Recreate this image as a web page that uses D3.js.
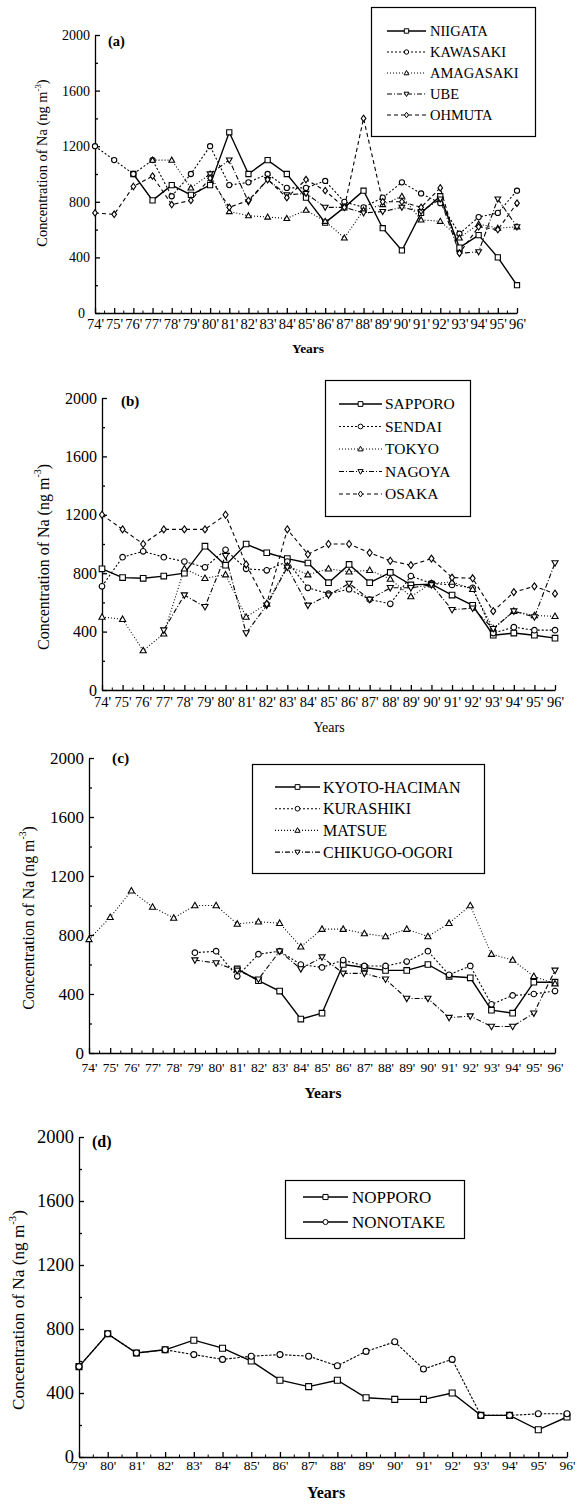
<!DOCTYPE html>
<html lang="en">
<head>
<meta charset="utf-8">
<title>Concentration of Na</title>
<script src="https://cdn.jsdelivr.net/npm/d3@7"></script>
<style>
body { margin: 0; background: #fff; }
svg { display: block; }
text { font-family: "Liberation Serif", "Times New Roman", serif; fill: #000; }
</style>
</head>
<body>
<script>
// tick labels
var years74 = ["74'","75'","76'","77'","78'","79'","80'","81'","82'","83'","84'","85'","86'","87'","88'","89'","90'","91'","92'","93'","94'","95'","96'"];
var years79 = ["79'","80'","81'","82'","83'","84'","85'","86'","87'","88'","89'","90'","91'","92'","93'","94'","95'","96'"];
var yTicks = [0, 400, 800, 1200, 1600, 2000];
var yMinor = [200, 600, 1000, 1400, 1800];

// (a)
var niigata   = [null,null,1000,810,920,850,920,1300,1000,1100,1000,830,650,760,880,610,450,720,840,470,560,400,200];
var kawasaki  = [1200,1100,1000,1100,840,1000,1200,920,940,1000,900,900,950,800,760,830,940,860,790,570,690,720,880];
var amagasaki = [null,null,null,1100,1100,900,1000,730,700,690,680,740,660,540,740,780,840,670,660,540,640,610,620];
var ube       = [null,null,null,null,null,null,1000,1100,800,960,850,860,760,760,720,730,760,730,820,430,440,820,620];
var ohmuta    = [720,710,910,985,780,810,970,760,810,960,830,960,880,760,1400,800,800,760,900,430,620,600,790];

// (b)
var sapporo = [830,770,765,780,800,985,855,1000,940,900,870,735,860,735,805,720,725,650,580,375,390,375,355];
var sendai  = [710,910,950,910,880,840,960,830,820,880,700,660,690,620,590,780,730,720,700,390,430,410,410];
var tokyo   = [500,485,270,385,830,765,790,500,590,850,790,830,810,820,760,640,730,740,690,420,540,510,505];
var nagoya  = [null,null,null,410,650,570,920,390,580,840,580,650,730,620,700,700,720,550,560,420,540,500,870];
var osaka   = [1200,1100,1000,1100,1100,1100,1200,860,590,1100,930,1000,1000,940,885,855,900,770,765,540,670,710,660];

// (c)
var kyoto     = [null,null,null,null,null,null,null,570,490,420,230,270,600,580,560,560,600,520,510,290,270,480,480];
var kurashiki = [null,null,null,null,null,680,690,520,670,690,600,580,630,590,590,620,690,530,590,330,390,400,420];
var matsue    = [770,920,1100,990,915,1000,1000,875,890,880,720,840,840,810,790,840,790,880,1000,670,630,520,470];
var chikugo   = [null,null,null,null,null,630,610,560,500,690,570,650,540,540,500,370,370,240,250,180,180,270,560];

// (d)
var nopporo  = [565,770,650,670,730,680,600,480,440,480,370,360,360,400,260,260,170,250];
var nonotake = [565,770,650,670,640,610,630,640,630,570,660,720,550,610,260,260,270,270];

var panels = [
  {label:"(a)", years:years74, x0:95, x1:517, y0:313, yTop:35, fy:14, fx:14.5, xpad:6, zeroPad:10, ms:2.6,
   lab:[108,46,14.5], title:[42,163,14.4], yrs:[308,353,13.5,"bold"],
   legend:{x:371, y:7, w:164, h:129, row0:31, rowH:21, lx0:387, lx1:426, tx:430, fs:14.5},
   series:[
     {name:"NIIGATA", v:niigata, shape:"square", dash:null},
     {name:"KAWASAKI", v:kawasaki, shape:"circle", dash:"2,2"},
     {name:"AMAGASAKI", v:amagasaki, shape:"up", dash:"1,2"},
     {name:"UBE", v:ube, shape:"down", dash:"5,2,1,2"},
     {name:"OHMUTA", v:ohmuta, shape:"diamond", dash:"4,3"}
   ]},
  {label:"(b)", years:years74, x0:102, x1:555, y0:690, yTop:398, fy:16, fx:14.5, xpad:7, zeroPad:5, ms:2.8,
   lab:[121,406,15], title:[43,557,16], yrs:[329,732,14,"normal"],
   legend:{x:325, y:380, w:145, h:136, row0:404, rowH:22.5, lx0:339, lx1:382, tx:385, fs:15.5},
   series:[
     {name:"SAPPORO", v:sapporo, shape:"square", dash:null},
     {name:"SENDAI", v:sendai, shape:"circle", dash:"2,2"},
     {name:"TOKYO", v:tokyo, shape:"up", dash:"1,2"},
     {name:"NAGOYA", v:nagoya, shape:"down", dash:"5,2,1,2"},
     {name:"OSAKA", v:osaka, shape:"diamond", dash:"4,3"}
   ]},
  {label:"(c)", years:years74, x0:89, x1:555, y0:1053, yTop:758, fy:17, fx:13.5, xpad:9, zeroPad:5, ms:2.8,
   lab:[112,763,15.5], title:[28,918,15.8], yrs:[323,1098,15.5,"bold"],
   legend:{x:252, y:764, w:232, h:109, row0:787, rowH:21.7, lx0:275, lx1:320, tx:323, fs:16},
   series:[
     {name:"KYOTO-HACIMAN", v:kyoto, shape:"square", dash:null},
     {name:"KURASHIKI", v:kurashiki, shape:"circle", dash:"2,2"},
     {name:"MATSUE", v:matsue, shape:"up", dash:"1,2"},
     {name:"CHIKUGO-OGORI", v:chikugo, shape:"down", dash:"5,2,1,2"}
   ]},
  {label:"(d)", years:years79, x0:79, x1:567, y0:1457, yTop:1137, fy:18.5, fx:13.5, xpad:3, zeroPad:5, ms:3,
   lab:[92,1147,16], title:[18,1310,17.2], yrs:[326,1498,16,"bold"],
   legend:{x:285, y:1180, w:179, h:58, row0:1197, rowH:25, lx0:303, lx1:348, tx:352, fs:17, allSolid:true},
   series:[
     {name:"NOPPORO", v:nopporo, shape:"square", dash:null},
     {name:"NONOTAKE", v:nonotake, shape:"circle", dash:"2.5,1.5"}
   ]}
];

var W = 578, H = 1507;
var svg = d3.select("body").append("svg").attr("width", W).attr("height", H);
svg.append("rect").attr("width", W).attr("height", H).attr("fill", "#fff");

// marker outline centred on 0,0
function markerPath(shape, s) {
  if (shape == "square") return "M" + (-s) + "," + (-s) + "h" + 2*s + "v" + 2*s + "h" + (-2*s) + "Z";
  if (shape == "circle") return d3.arc()({innerRadius:0, outerRadius:s, startAngle:0, endAngle:2*Math.PI});
  if (shape == "up") return "M0," + (-1.15*s) + "L" + (1.1*s) + "," + (0.8*s) + "L" + (-1.1*s) + "," + (0.8*s) + "Z";
  if (shape == "down") return "M0," + (1.15*s) + "L" + (1.1*s) + "," + (-0.8*s) + "L" + (-1.1*s) + "," + (-0.8*s) + "Z";
  return "M0," + (-1.25*s) + "L" + (0.9*s) + ",0L0," + (1.25*s) + "L" + (-0.9*s) + ",0Z";
}

function drawPanel(p) {
  var g = svg.append("g");
  var x = d3.scalePoint().domain(p.years).range([p.x0, p.x1]);
  var y = d3.scaleLinear().domain([0, 2000]).range([p.y0, p.yTop]);

  // y axis, ticks inside
  var ya = g.append("g").attr("transform", "translate(" + p.x0 + ",0)")
    .call(d3.axisLeft(y).tickValues(yTicks).tickSizeInner(-5).tickSizeOuter(0).tickPadding(5).tickFormat(d3.format("d")));
  g.append("g").attr("transform", "translate(" + p.x0 + ",0)")
    .call(d3.axisLeft(y).tickValues(yMinor).tickSizeInner(-3).tickSizeOuter(0).tickFormat(""))
    .select(".domain").remove();
  ya.selectAll("text").style("font-size", p.fy + "px");
  // the "0" sits a little further left so it clears the first year label
  ya.selectAll(".tick").filter(function(d) { return d == 0; }).select("text").attr("x", -p.zeroPad);

  // x axis
  var xa = g.append("g").attr("transform", "translate(0," + p.y0 + ")")
    .call(d3.axisBottom(x).tickSizeInner(-5).tickSizeOuter(0).tickPadding(p.xpad));
  xa.selectAll("text").style("font-size", p.fx + "px");
  var mids = d3.pairs(p.years).map(function(d) { return (x(d[0]) + x(d[1])) / 2; });
  g.selectAll(".xminor").data(mids).enter().append("line")
    .attr("x1", function(d) { return d; }).attr("x2", function(d) { return d; })
    .attr("y1", p.y0).attr("y2", p.y0 - 2.5)
    .attr("stroke", "#000");
  g.selectAll(".domain, .tick line").attr("stroke-width", 1.3);

  // panel letter
  g.append("text").attr("x", p.lab[0]).attr("y", p.lab[1])
    .style("font-size", p.lab[2] + "px").style("font-weight", "bold").text(p.label);

  // y title
  var t = g.append("text")
    .attr("transform", "translate(" + p.title[0] + "," + p.title[1] + ") rotate(-90)")
    .attr("text-anchor", "middle").attr("dy", "0.35em")
    .style("font-size", p.title[2] + "px");
  t.append("tspan").text("Concentration of Na (ng m");
  t.append("tspan").attr("dy", -0.45 * p.title[2]).style("font-size", (p.title[2] * 0.62) + "px").text("-3");
  t.append("tspan").attr("dy", 0.45 * p.title[2]).text(")");

  // x title
  g.append("text").attr("x", p.yrs[0]).attr("y", p.yrs[1]).attr("text-anchor", "middle")
    .style("font-size", p.yrs[2] + "px").style("font-weight", p.yrs[3]).text("Years");

  // series
  var line = d3.line()
    .defined(function(d) { return d.v != null; })
    .x(function(d) { return x(d.yr); })
    .y(function(d) { return y(d.v); });

  p.series.forEach(function(s) {
    var pts = p.years.map(function(yr, i) { return {yr: yr, v: s.v[i]}; });
    g.append("path").datum(pts).attr("d", line)
      .attr("fill", "none").attr("stroke", "#000")
      .attr("stroke-width", s.dash ? 1.1 : 1.4)
      .attr("stroke-dasharray", s.dash);
  });
  p.series.forEach(function(s) {
    var pts = p.years.map(function(yr, i) { return {yr: yr, v: s.v[i]}; })
      .filter(function(d) { return d.v != null; });
    g.selectAll(null).data(pts).enter().append("path")
      .attr("transform", function(d) { return "translate(" + x(d.yr) + "," + y(d.v) + ")"; })
      .attr("d", markerPath(s.shape, p.ms))
      .attr("fill", "#fff").attr("stroke", "#000").attr("stroke-width", 1.1);
  });

  // legend
  var L = p.legend;
  var lg = g.append("g");
  lg.append("rect").attr("x", L.x + 0.5).attr("y", L.y + 0.5).attr("width", L.w).attr("height", L.h)
    .attr("fill", "#fff").attr("stroke", "#000").attr("stroke-width", 1.2);
  p.series.forEach(function(s, i) {
    var cy = L.row0 + i * L.rowH;
    var solid = L.allSolid || !s.dash;
    lg.append("line").attr("x1", L.lx0).attr("x2", L.lx1).attr("y1", cy).attr("y2", cy)
      .attr("stroke", "#000").attr("stroke-width", solid ? 1.3 : 1.1)
      .attr("stroke-dasharray", solid ? null : s.dash);
    lg.append("path").attr("transform", "translate(" + (L.lx0 + L.lx1) / 2 + "," + cy + ")")
      .attr("d", markerPath(s.shape, p.ms * 0.85))
      .attr("fill", "#fff").attr("stroke", "#000");
    lg.append("text").attr("x", L.tx).attr("y", cy).attr("dy", "0.35em")
      .style("font-size", L.fs + "px").text(s.name);
  });
}

panels.forEach(drawPanel);
</script>
</body>
</html>
